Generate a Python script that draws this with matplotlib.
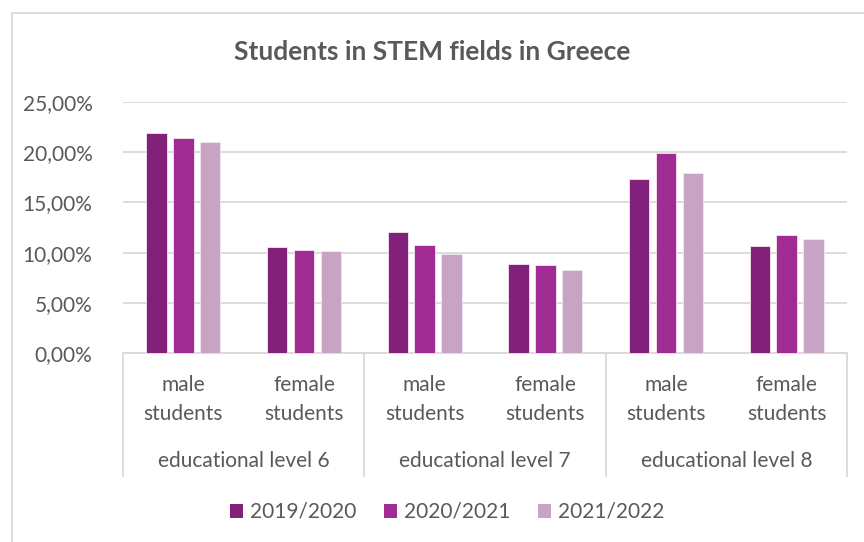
import matplotlib.pyplot as plt
import matplotlib.transforms as mtransforms
from matplotlib.lines import Line2D
from matplotlib.patches import Patch
import numpy as np

# data (percent)
groups = ["educational level 6", "educational level 7", "educational level 8"]
subcats = ["male\nstudents", "female\nstudents"] * 3
years = ["2019/2020", "2020/2021", "2021/2022"]
y2019 = [21.9, 10.6, 12.1, 8.85, 17.3, 10.65]
y2020 = [21.4, 10.25, 10.75, 8.75, 19.95, 11.8]
y2021 = [21.0, 10.15, 9.9, 8.3, 17.95, 11.4]
colors = ["#82207A", "#A02B93", "#C9A3C4"]

plt.rcParams['font.family'] = ['Lato', 'DejaVu Sans']
txt = "#595959"
grid = "#D9D9D9"
fs = 15

fig = plt.figure(figsize=(8.64, 5.42), dpi=100)
W, H = 864, 542
ax = fig.add_axes([123 / W, 1 - 353 / H, (847 - 123) / W, (353 - 102) / H])

x = np.arange(len(subcats))
bw = 0.17
off = 0.222
for i, vals in enumerate([y2019, y2020, y2021]):
    ax.bar(x + (i - 1) * off, vals, bw, color=colors[i], edgecolor="#F3E6F1",
           linewidth=0.6, zorder=3, label=years[i])

ax.set_xlim(-0.5, len(subcats) - 0.5)
ax.set_ylim(0, 25)
ax.set_yticks(np.arange(0, 26, 5))
ax.set_yticklabels([("%.2f" % v).replace(".", ",") + "%" for v in np.arange(0, 26, 5)],
                   fontsize=fs, color=txt)
ax.tick_params(axis='y', length=0, pad=22)
ax.set_xticks([])
ax.grid(axis='y', color=grid, linewidth=1.3, zorder=0)
for s in ["top", "right", "left"]:
    ax.spines[s].set_visible(False)
ax.spines["bottom"].set_color(grid)
ax.spines["bottom"].set_linewidth(1.3)

trans = mtransforms.blended_transform_factory(ax.transData, ax.transAxes)
# category labels
for xi, lab in zip(x, subcats):
    top, bot = lab.split("\n")
    ax.text(xi, (353 - 385) / 251, top, transform=trans, ha='center', va='center',
            fontsize=fs, color=txt)
    ax.text(xi, (353 - 414) / 251, bot, transform=trans, ha='center', va='center',
            fontsize=fs, color=txt)
for gi, g in enumerate(groups):
    ax.text(2 * gi + 0.5, (353 - 461) / 251, g, transform=trans, ha='center',
            va='center', fontsize=fs, color=txt)
# separators between groups
for sx in [-0.5, 1.5, 3.5, 5.5]:
    ax.plot([sx, sx], [0, -(476 - 353) / 251], transform=trans, color=grid,
            linewidth=1.3, clip_on=False)

fig.text(0.5, 1 - 52 / H, "Students in STEM fields in Greece", ha='center',
         va='center', fontsize=19, fontweight='bold', color=txt)

handles = [Patch(facecolor=c, edgecolor='none') for c in colors]
fig.legend(handles, years, loc='center', bbox_to_anchor=(0.5 + 15 / W, 1 - 512 / H), ncol=3,
           frameon=False, fontsize=fs, labelcolor=txt, handlelength=0.64,
           handleheight=0.64, handletextpad=0.3, columnspacing=1.35)

# chart frame (left and top edges visible)
fig.add_artist(Line2D([12 / W, 12 / W], [0, 1 - 13 / H], transform=fig.transFigure,
                      color=grid, linewidth=1.3))
fig.add_artist(Line2D([12 / W, 1], [1 - 13 / H, 1 - 13 / H], transform=fig.transFigure,
                      color=grid, linewidth=1.3))

fig.savefig("out.png", dpi=100, facecolor="white")
